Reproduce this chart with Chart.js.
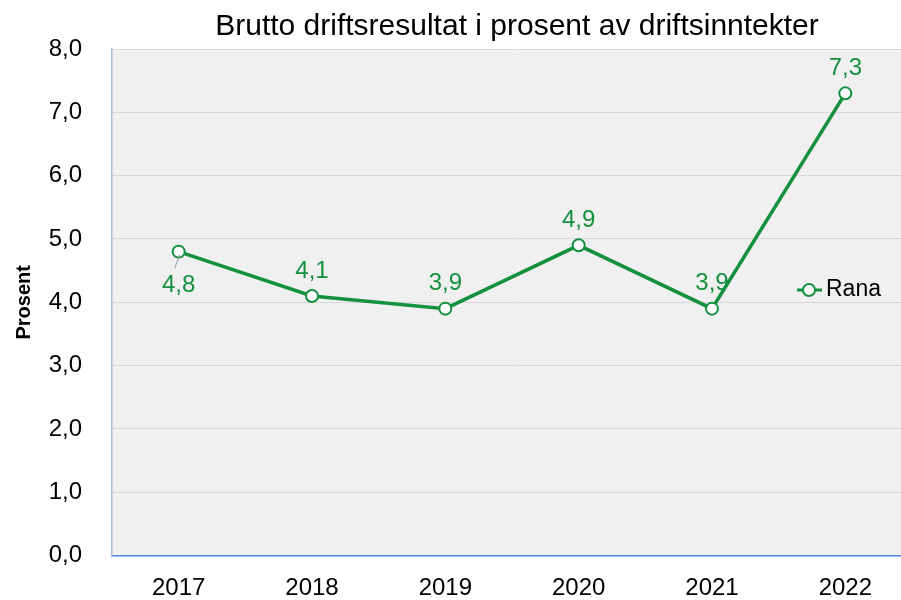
<!DOCTYPE html>
<html>
<head>
<meta charset="utf-8">
<script src="https://cdn.jsdelivr.net/npm/chart.js@4/dist/chart.umd.min.js"></script>
<style>
  html, body { margin: 0; padding: 0; background: #fff; overflow: hidden; }
  #wrap { width: 1035px; height: 600px; }
</style>
</head>
<body>
<div id="wrap"><canvas id="myChart" width="1035" height="600"></canvas></div>
<script>
const years = ['2017', '2018', '2019', '2020', '2021', '2022']
const rana = [4.8, 4.1, 3.9, 4.9, 3.9, 7.3]
const yTicks = [0, 1, 2, 3, 4, 5, 6, 7, 8]
const chartTitle = 'Brutto driftsresultat i prosent av driftsinntekter'

const green = '#15903e'
const font = 'Liberation Sans, Arial, sans-serif'
const fmt = v => v.toFixed(1).replace('.', ',')

// grey plot background, runs out to the right edge
const plotBg = {
  id: 'plotBg',
  beforeDraw(chart) {
    const { ctx, chartArea: a } = chart
    ctx.save()
    ctx.fillStyle = '#f0f0f0'
    ctx.fillRect(a.left, a.top, chart.width - a.left, a.bottom - a.top)
    // title, centred over the visible plot
    ctx.fillStyle = '#000'
    ctx.font = '30px ' + font
    ctx.textAlign = 'center'
    ctx.textBaseline = 'middle'
    ctx.fillText(chartTitle, 517, 27)
    ctx.restore()
  }
}

const labels = {
  id: 'labels',
  afterDatasetsDraw(chart) {
    const { ctx } = chart
    const pts = chart.getDatasetMeta(0).data
    ctx.save()
    ctx.font = '24px ' + font
    ctx.fillStyle = green
    ctx.textAlign = 'center'
    ctx.textBaseline = 'middle'
    pts.forEach((p, i) => {
      if (i === 0) {
        ctx.strokeStyle = '#a0a0a0'
        ctx.lineWidth = 1
        ctx.beginPath()
        ctx.moveTo(p.x + 1, p.y + 3)
        ctx.lineTo(p.x - 4, p.y + 17)
        ctx.stroke()
        ctx.fillText(fmt(rana[i]), p.x, p.y + 34)
      } else {
        ctx.fillText(fmt(rana[i]), p.x, p.y - 25)
      }
    })

    // legend inside the plot
    const ly = chart.chartArea.top + 241
    ctx.strokeStyle = green
    ctx.lineWidth = 3
    ctx.beginPath()
    ctx.moveTo(797, ly)
    ctx.lineTo(822, ly)
    ctx.stroke()
    ctx.beginPath()
    ctx.arc(809, ly, 6, 0, Math.PI * 2)
    ctx.fillStyle = '#fff'
    ctx.fill()
    ctx.lineWidth = 2
    ctx.stroke()
    ctx.fillStyle = '#000'
    ctx.textAlign = 'left'
    ctx.font = '23px ' + font
    ctx.fillText('Rana', 826, ly)
    ctx.restore()
  }
}

new Chart(document.getElementById('myChart'), {
  type: 'line',
  data: {
    labels: years,
    datasets: [{
      label: 'Rana',
      data: rana,
      borderColor: green,
      borderWidth: 3.5,
      pointRadius: 6,
      pointBorderWidth: 2,
      pointBackgroundColor: '#fff',
      pointBorderColor: green,
      tension: 0
    }]
  },
  options: {
    responsive: false,
    animation: false,
    layout: { padding: { left: 0, right: 123, top: 49, bottom: 0 } },
    plugins: {
      legend: { display: false },
      tooltip: { enabled: false },
      title: { display: false }
    },
    scales: {
      x: {
        offset: true,
        grid: { display: false, drawTicks: false },
        border: { color: '#4a86d4', width: 1.5 },
        ticks: { color: '#000', font: { family: font, size: 24 }, padding: 18, maxRotation: 0 },
        afterFit(s) { s.height = 43 }
      },
      y: {
        min: 0,
        max: 8,
        afterBuildTicks(s) { s.ticks = yTicks.map(v => ({ value: v })) },
        grid: { color: '#d9d9d9', drawTicks: false },
        border: { color: '#a9bedf', width: 1.5 },
        ticks: { color: '#000', font: { family: font, size: 24 }, padding: 30, callback: v => fmt(v) },
        title: {
          display: true,
          text: 'Prosent',
          color: '#000',
          font: { family: font, size: 20, weight: 'bold' },
          padding: { top: 12, bottom: 0 }
        },
        afterFit(s) { s.width = 112 }
      }
    }
  },
  plugins: [plotBg, labels]
})
</script>
</body>
</html>
